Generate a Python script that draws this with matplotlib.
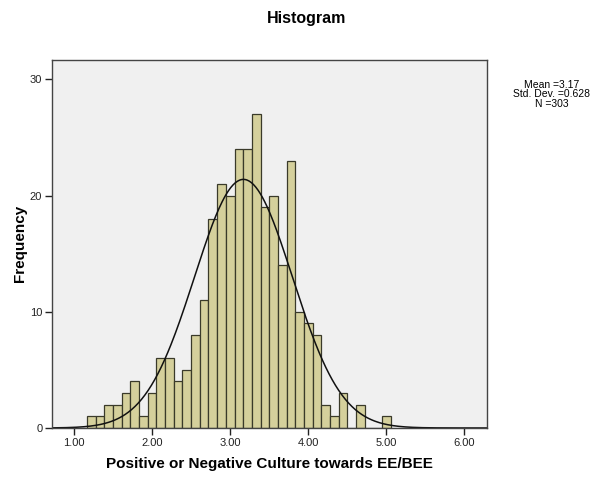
import matplotlib.pyplot as plt
import numpy as np

plt.rcParams['font.family'] = ['Liberation Sans', 'DejaVu Sans']

# bin centres are k/9 (means of nine items), k = 11..45
binK = list(range(11, 46))
counts = [1, 1, 2, 2, 3, 4, 1, 3, 6, 6, 4, 5, 8, 11, 18, 21, 20, 24, 24, 27,
          19, 20, 14, 23, 10, 9, 8, 2, 1, 3, 0, 2, 0, 0, 1]
mean = 3.17
sd = 0.628
n = 303
xTicks = [1, 2, 3, 4, 5, 6]
yTicks = [0, 10, 20, 30]

binWidth = 1 / 9
centers = np.array(binK) / 9

fig = plt.figure(figsize=(6.07, 4.83), dpi=100)
ax = fig.add_axes([0.0857, 0.1139, 0.7166, 0.7629])
ax.set_facecolor('#f0f0f0')

ax.bar(centers, counts, width=binWidth, color='#d5d09c', edgecolor='#3a3a2a', linewidth=0.9)

# normal curve scaled to counts per bin
xs = np.linspace(0.72, 6.29, 400)
curve = n * binWidth / (sd * np.sqrt(2 * np.pi)) * np.exp(-0.5 * ((xs - mean) / sd) ** 2)
ax.plot(xs, curve, color='#111111', linewidth=1.1)

ax.set_xlim(0.718, 6.29)
ax.set_ylim(0, 31.7)
ax.set_xticks(xTicks)
ax.set_xticklabels([f'{v:.2f}' for v in xTicks])
ax.set_yticks(yTicks)
ax.tick_params(direction='out', length=5, width=1, labelsize=8, colors='#222222', pad=2)
for s in ax.spines.values():
    s.set_color('#444444')
    s.set_linewidth(1)

ax.set_xlabel('Positive or Negative Culture towards EE/BEE', fontsize=11, fontweight='bold', labelpad=7)
ax.set_ylabel('Frequency', fontsize=11, fontweight='bold', labelpad=2)
fig.text(0.505, 0.962, 'Histogram', ha='center', va='center', fontsize=11.5, fontweight='bold')
fig.text(0.909, 0.805, f'Mean ={mean}\nStd. Dev. ={sd}\nN ={n}', ha='center', va='center',
         fontsize=7.5, linespacing=0.95)

fig.savefig('out.png', dpi=100)
